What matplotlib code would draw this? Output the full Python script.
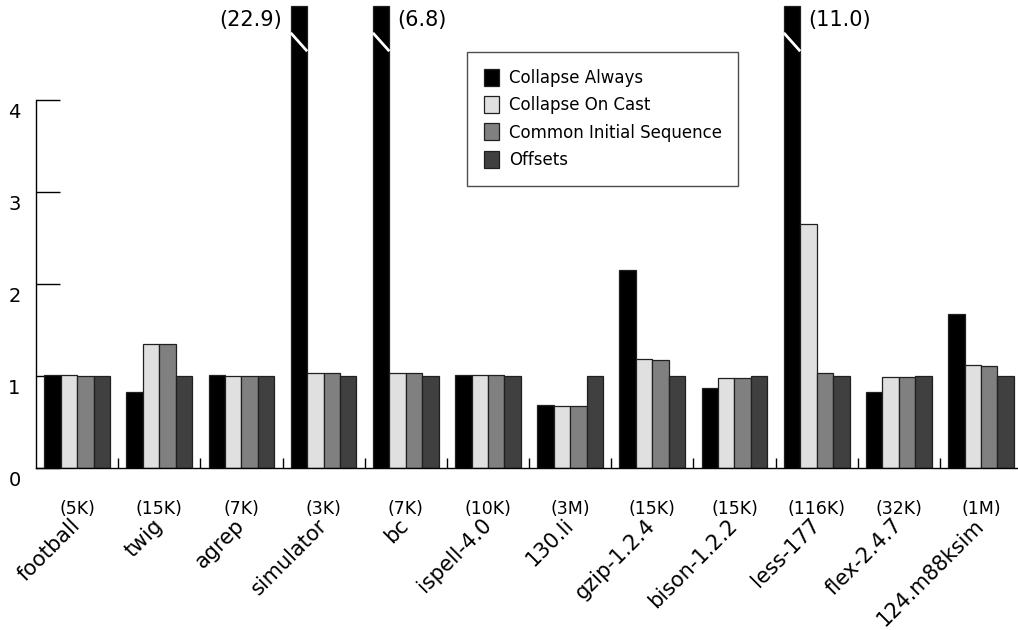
import numpy as np
import matplotlib
matplotlib.use("Agg")
import matplotlib.pyplot as plt
import matplotlib.transforms as mtransforms

# benchmark names and sizes
programs = ["football", "twig", "agrep", "simulator", "bc", "ispell-4.0", "130.li",
            "gzip-1.2.4", "bison-1.2.2", "less-177", "flex-2.4.7", "124.m88ksim"]
sizes = ["(5K)", "(15K)", "(7K)", "(3K)", "(7K)", "(10K)", "(3M)",
         "(15K)", "(15K)", "(116K)", "(32K)", "(1M)"]

# normalized values per analysis
collapse_always = [1.01, 0.83, 1.01, 22.9, 6.8, 1.01, 0.68, 2.15, 0.87, 11.0, 0.83, 1.67]
collapse_on_cast = [1.01, 1.35, 1.00, 1.03, 1.03, 1.01, 0.67, 1.18, 0.98, 2.65, 0.99, 1.12]
common_initial = [1.00, 1.35, 1.00, 1.03, 1.03, 1.01, 0.67, 1.17, 0.98, 1.03, 0.99, 1.11]
offsets = [1.00, 1.00, 1.00, 1.00, 1.00, 1.00, 1.00, 1.00, 1.00, 1.00, 1.00, 1.00]

series = [("Collapse Always", collapse_always, "#000000"),
          ("Collapse On Cast", collapse_on_cast, "#e0e0e0"),
          ("Common Initial Sequence", common_initial, "#808080"),
          ("Offsets", offsets, "#404040")]

fig = plt.figure(figsize=(10.18, 6.3), dpi=100)
ax = fig.add_axes([36/1018, 162/630, 982/1018, 468/630])

ymax = 468/92
cap = 5.02
x = np.arange(len(programs))
w = 0.2
for k, (name, vals, col) in enumerate(series):
    shown = [min(v, cap) for v in vals]
    ax.bar(x + (k - 1.5)*w, shown, w, color=col, edgecolor="#202020", linewidth=0.9,
           label=name, zorder=2)

# broken bars: white slash + value label
for i, v in enumerate(collapse_always):
    if v > cap:
        xl = x[i] - 2*w
        ax.plot([xl, xl + w], [4.73, 4.53], color="white", lw=2, zorder=3,
                solid_capstyle="butt")
        if i == 3:
            ax.annotate("(%.1f)" % v, (xl, 4.87), xytext=(-9, 0), textcoords="offset pixels",
                        ha="right", va="center", fontsize=15)
        else:
            ax.annotate("(%.1f)" % v, (xl + w, 4.87), xytext=(8, 0), textcoords="offset pixels",
                        ha="left", va="center", fontsize=15)

ax.set_xlim(-0.5, 11.45)
ax.set_ylim(0, ymax)

for s in ["top", "right"]:
    ax.spines[s].set_visible(False)
ax.spines["left"].set_bounds(0, 4)
ax.spines["left"].set_linewidth(1)
ax.spines["bottom"].set_linewidth(1)

ax.set_yticks([0, 1, 2, 3, 4])
ax.set_yticklabels(["0", "1", "2", "3", "4"], fontsize=14)
ax.tick_params(axis="y", direction="in", length=17, width=1, pad=11)
shift = mtransforms.ScaledTranslation(0, -10/100, fig.dpi_scale_trans)
for lab in ax.get_yticklabels():
    lab.set_transform(lab.get_transform() + shift)

ax.set_xticks(x[:-1] + 0.5)
ax.set_xticklabels([])
ax.tick_params(axis="x", direction="in", length=7, width=1)

trans = ax.get_xaxis_transform()
name_shift = mtransforms.ScaledTranslation(-7/100, 0, fig.dpi_scale_trans)
for i in range(len(programs)):
    ax.text(x[i], -41/468, sizes[i], transform=trans, ha="center", va="center", fontsize=12.5)
    ax.text(x[i], -47/468, programs[i], transform=trans + name_shift, ha="right", va="top",
            rotation=45, rotation_mode="anchor", fontsize=15)

leg = ax.legend(loc="upper left", bbox_to_anchor=((467-36)/982, (468-52)/468),
                borderaxespad=0, fontsize=12, frameon=True, fancybox=False,
                handlelength=0.9, handleheight=1.2, handletextpad=0.6,
                labelspacing=0.55, borderpad=1.0)
leg.get_frame().set_edgecolor("#202020")
leg.get_frame().set_linewidth(1)

fig.savefig("out.png", dpi=100)
